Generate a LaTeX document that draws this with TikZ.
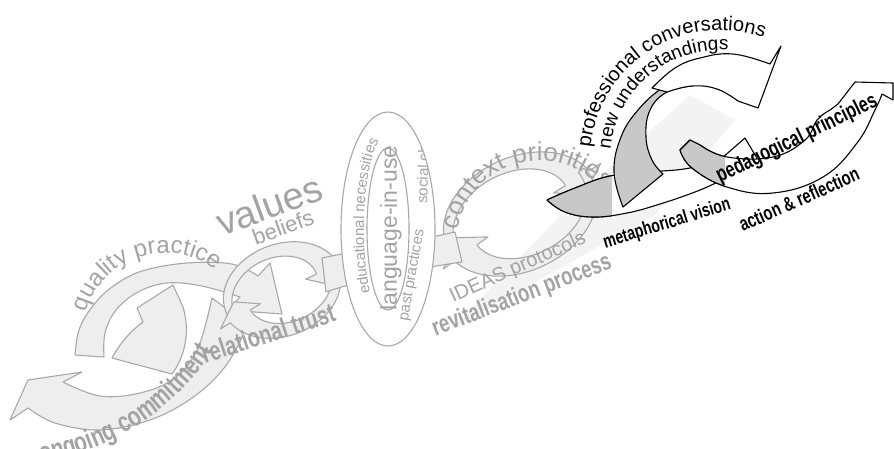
\documentclass[tikz,border=0pt]{standalone}
\usepackage{fontspec}
\setmainfont{Liberation Sans}
\newfontfamily\narrowfont[FakeStretch=0.74]{Liberation Sans}
\usetikzlibrary{decorations.text,calc}

\definecolor{loopline}{HTML}{A8A8A8}
\definecolor{loopfill}{HTML}{EEEEEE}
\definecolor{wordgray}{HTML}{A3A3A3}
\definecolor{backfill}{HTML}{C8C8C8}
\definecolor{beamgray}{HTML}{F3F3F3}

% curved arrow round the origin: radius at tail, radius at head, from angle, to angle, head width
\newcommand{\spiralarrow}[6][]{%
	\pgfmathsetmacro{\sdir}{(#5)>(#4) ? 1 : -1}%
	\pgfmathsetmacro{\stip}{#5+\sdir*1.1*(#6)/(#3)*57.3}%
	\draw[#1] plot[domain=#4:#5, samples=40] (\x:{#2+(#3-#2)*(\x-(#4))/((#5)-(#4))})
		-- (#5:{#3+0.5*#6})
		-- (\stip:{#3-0.5*#6})
		-- (#5:{#3-1.5*#6})
		-- plot[domain=#5:#4, samples=40] (\x:{#2+(#3-#2)*(\x-(#4))/((#5)-(#4))-(#6)*(0.25+0.75*(\x-(#4))/((#5)-(#4)))})
		-- cycle;%
}

\tikzset{
	greyarrow/.style={draw=loopline, fill=loopfill, line width=1.1pt, line join=round},
	frontarrow/.style={draw=black, fill=white, line width=1.1pt, line join=round},
	backarrow/.style={draw=black, fill=backfill, line width=1.1pt, line join=round},
	greyword/.style={text=wordgray, inner sep=0pt},
	blackword/.style={text=black, inner sep=0pt},
}

\begin{document}
\begin{tikzpicture}[x=1pt, y=-1pt]
	\useasboundingbox (0,0) rectangle (894,448);
	
	%---------------------------------------------
	% faint beam behind the right half
	\fill[beamgray] (450,330) -- (590,185) -- (690,95) -- (735,120) -- (655,215) -- cycle;
	
	%---------------------------------------------
	% first grey loop
	\draw[greyarrow] plot[smooth, tension=.6] coordinates {(250,298) (244,332) (224,368) (192,398) (150,420) (100,430) (55,423) (28,408)}
		-- (10,420) -- (28,380) -- (82,372)
		-- plot[smooth, tension=.6] coordinates {(63,382) (100,396) (140,393) (175,378) (198,348) (212,298)}
		-- (224,307) -- cycle;
	\draw[greyarrow] plot[smooth, tension=.6] coordinates {(75,355) (79,330) (92,307) (112,287) (142,271) (187,263) (232,264) (258,276)}
		-- (270,263) -- (282,314) -- (228,310)
		-- plot[smooth, tension=.6] coordinates {(240,297) (202,286) (167,283) (138,292) (116,310) (105,333) (104,357)}
		-- cycle;
	\draw[greyarrow] (112,358) .. controls (122,340) and (132,330) .. (143,322)
		-- (137,308) -- (173,285) -- (183,307)
		.. controls (190,330) and (186,355) .. (172,374) -- cycle;
	
	% second and third grey loops
	\begin{scope}[shift={(282,290)}, rotate=21, yscale=.75]
		\spiralarrow[greyarrow]{60}{62}{165}{355}{24}
		\spiralarrow[greyarrow]{60}{62}{-15}{165}{24}
	\end{scope}
	\begin{scope}[shift={(520,214)}, rotate=25, yscale=.7]
		\spiralarrow[greyarrow]{80}{82}{170}{350}{28}
		\spiralarrow[greyarrow]{80}{82}{-15}{165}{28}
	\end{scope}
	
	% band running under the ring
	\draw[greyarrow] (322,258) .. controls (360,250) and (420,240) .. (455,232)
		-- (462,262) .. controls (420,268) and (360,280) .. (326,292) -- cycle;
	
	% the ring in the middle
	\coordinate (ring) at (388,229);
	\draw[loopline, fill=white, line width=1.1pt] (ring) ellipse [x radius=47, y radius=117];
	\draw[loopline, fill=white, line width=1.1pt] (ring) ellipse [x radius=21, y radius=81];
	
	%---------------------------------------------
	% grey words
	\coordinate (qc) at (165,335);
	\path[decorate, decoration={text along path, text align=center,
		text={|\fontsize{24}{24}\selectfont\color{wordgray}|quality practice}}]
		([shift={(194:82)}]qc) arc[start angle=194, end angle=310, radius=82];
	\node[greyword, rotate=20, font=\fontsize{38}{38}\selectfont] (values) at (269,205) {values};
	\node[greyword, rotate=20, font=\fontsize{22}{22}\selectfont] (beliefs) at (283,227) {beliefs};
	\node[greyword, rotate=18, font=\narrowfont\bfseries\fontsize{27}{27}\selectfont] (trust) at (268,333) {relational trust};
	\path[decorate, decoration={text along path, text align=center,
		text={|\narrowfont\bfseries\fontsize{28}{28}\selectfont\color{wordgray}|ongoing commitment}}]
		(42,462) .. controls (120,448) and (178,405) .. (212,352);
	
	\begin{scope}
		\clip (ring) ellipse [x radius=46, y radius=116];
		\node[greyword, rotate=90, font=\fontsize{23}{23}\selectfont] (lang) at (391,228) {language-in-use};
		\node[greyword, rotate=88, font=\fontsize{15}{15}\selectfont] (chat) at (423,168) {social chat};
		\node[greyword, rotate=80, font=\fontsize{15}{15}\selectfont] (past) at (412,275) {past practices};
		\path[decorate, decoration={text along path, text align=center,
			text={|\fontsize{15}{15}\selectfont\color{wordgray}|educational necessities}}]
			([shift={(137:24 and 95)}]ring) arc[start angle=137, end angle=250, x radius=24, y radius=95];
	\end{scope}
	
	\coordinate (cc) at (540,245);
	\path[decorate, decoration={text along path, text align=left,
		text={|\fontsize{26}{26}\selectfont\color{wordgray}|context priorities}}]
		([shift={(190:84)}]cc) arc[start angle=190, end angle=335, radius=84];
	\node[greyword, rotate=24, font=\fontsize{20}{20}\selectfont] (ideas) at (518,268) {IDEAS protocols};
	\node[greyword, rotate=21, font=\narrowfont\bfseries\fontsize{25}{25}\selectfont] (revital) at (522,296) {revitalisation process};
	
	%---------------------------------------------
	% black loops
	% lower band, pointed tail on the left
	\draw[frontarrow] plot[smooth, tension=.7] coordinates {(547,200) (575,188) (610,176) (650,172) (690,168) (722,158)}
		-- (745,138) -- (758,160)
		-- plot[smooth, tension=.7] coordinates {(740,172) (718,182) (695,192) (660,204) (627,213) (593,217) (565,212) (547,200)};
	\begin{scope}
		\clip (540,150) rectangle (612,240);
		\draw[backarrow] plot[smooth, tension=.7] coordinates {(547,200) (575,188) (610,176) (650,172) (690,168)}
			-- plot[smooth, tension=.7] coordinates {(660,204) (627,213) (593,217) (565,212) (547,200)};
	\end{scope}
	% ring arrow, back side on the left
	\draw[backarrow] plot[smooth, tension=.7] coordinates {(623,207) (614,172) (621,137) (638,110) (662,88) (690,72)}
		-- plot[smooth, tension=.7] coordinates {(692,86) (667,92) (650,110) (646,137) (652,160) (663,174)} -- cycle;
	\draw[frontarrow] plot[smooth, tension=.7] coordinates {(652,88) (675,68) (700,58) (733,54) (770,64)}
		-- (781,46) -- (758,108) -- (738,101)
		-- plot[smooth, tension=.7] coordinates {(738,101) (717,89) (692,86) (667,92)} -- cycle;
	% right arrow round the principles
	\draw[frontarrow] plot[smooth, tension=.7] coordinates {(680,150) (692,168) (727,187) (773,193) (823,177) (857,143) (875,110) (882,94)}
		-- (893,100) -- (893,83) -- (855,82) -- (838,104)
		-- plot[smooth, tension=.7] coordinates {(830,110) (817,120) (805,140) (773,157) (727,157) (700,145)}
		-- (690,140) -- cycle;
	\begin{scope}
		\clip (670,120) rectangle (725,200);
		\draw[backarrow] plot[smooth, tension=.7] coordinates {(680,150) (692,168) (727,187) (773,193)}
			-- plot[smooth, tension=.7] coordinates {(773,157) (727,157) (700,145)}
			-- (690,140) -- cycle;
	\end{scope}
	
	%---------------------------------------------
	% black words
	\coordinate (pc) at (720,160);
	\path[decorate, decoration={text along path, text align=center,
		text={|\fontsize{20}{20}\selectfont|professional conversations}}]
		([shift={(183:130)}]pc) arc[start angle=183, end angle=292, radius=130];
	\path[decorate, decoration={text along path, text align=center,
		text={|\fontsize{19}{19}\selectfont|new understandings}}]
		([shift={(186:110)}]pc) arc[start angle=186, end angle=274, radius=110];
	\node[blackword, rotate=17, font=\narrowfont\bfseries\fontsize{19}{19}\selectfont] (vision) at (667,224) {metaphorical vision};
	\node[blackword, rotate=24, font=\narrowfont\bfseries\fontsize{20}{20}\selectfont] (action) at (799,199) {action \& reflection};
	\node[blackword, rotate=26, font=\narrowfont\bfseries\fontsize{22}{22}\selectfont] (pedagogy) at (797,139) {pedagogical principles};
	
\end{tikzpicture}
\end{document}
